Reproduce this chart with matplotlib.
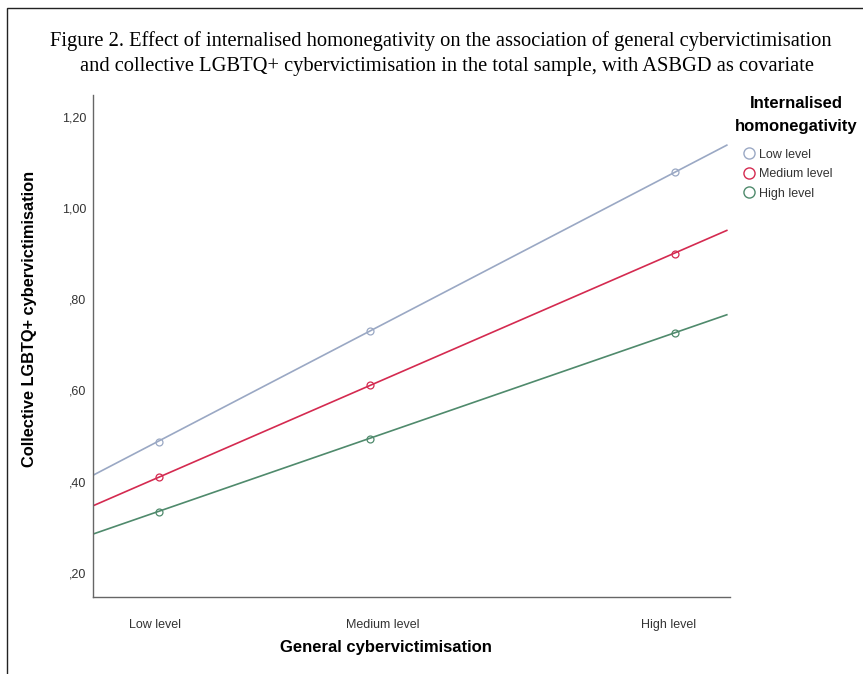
import numpy as np
import matplotlib
matplotlib.use('Agg')
import matplotlib.pyplot as plt
from matplotlib.lines import Line2D
from matplotlib.patches import Rectangle

# values
x_levels = ['Low level', 'Medium level', 'High level']
x_pos = [0.104, 0.435, 0.914]          # where the markers sit on the x scale
x_tick_pos = [0.097, 0.455, 0.904]     # where SPSS put the category labels

groups = ['Low level', 'Medium level', 'High level']
low_ih = [0.487, 0.730, 1.080]
medium_ih = [0.410, 0.611, 0.900]
high_ih = [0.333, 0.493, 0.727]

# fit line ends (left edge x=0, right edge x=0.995)
fit_x = [0.0, 0.995]
low_fit = [0.414, 1.138]
medium_fit = [0.347, 0.951]
high_fit = [0.285, 0.766]

yticks = [0.2, 0.4, 0.6, 0.8, 1.0, 1.2]
ytick_labels = [',20', ',40', ',60', ',80', '1,00', '1,20']

colors = ['#9aa8c4', '#d42a50', '#4f8a6c']

sans = ['Liberation Sans', 'DejaVu Sans']

fig = plt.figure(figsize=(8.63, 6.74), dpi=100)
ax = fig.add_axes([93/863, 1-597/674, (730-93)/863, (597-95)/674])

for vals, fit, c in zip([low_ih, medium_ih, high_ih], [low_fit, medium_fit, high_fit], colors):
    ax.plot(fit_x, fit, color=c, lw=1.2, zorder=2)
    ax.plot(x_pos, vals, 'o', mfc='none', mec=c, ms=5, mew=0.9, zorder=3)

ax.set_xlim(0, 1)
ax.set_ylim(0.147, 1.248)
ax.set_yticks(yticks)
ax.set_yticklabels(ytick_labels, family=sans, fontsize=9, color='#333333')
ax.set_xticks(x_tick_pos)
ax.set_xticklabels(x_levels, family=sans, fontsize=9, color='#333333')
ax.tick_params(length=0)
ax.tick_params(axis='y', pad=5)
ax.tick_params(axis='x', pad=16)
for s in ['top', 'right']:
    ax.spines[s].set_visible(False)
for s in ['left', 'bottom']:
    ax.spines[s].set_color('#666666')
    ax.spines[s].set_linewidth(1.0)

ax.set_xlabel('General cybervictimisation', family=sans, fontsize=12, fontweight='bold')
ax.xaxis.set_label_coords((386-93)/637, -0.085)
ax.set_ylabel('Collective LGBTQ+ cybervictimisation', family=sans, fontsize=11.8, fontweight='bold')
ax.yaxis.set_label_coords(-0.088, 0.553)

fig.text(441/863, 1-41/674, 'Figure 2. Effect of internalised homonegativity on the association of general cybervictimisation',
         ha='center', va='center', family='Liberation Serif', fontsize=14.8)
fig.text(447/863, 1-66/674, 'and collective LGBTQ+ cybervictimisation in the total sample, with ASBGD as covariate',
         ha='center', va='center', family='Liberation Serif', fontsize=14.8)

# legend title, then the entries
fig.text(796/863, 1-103/674, 'Internalised', ha='center', va='center',
         family=sans, fontsize=12, fontweight='bold')
fig.text(796/863, 1-127/674, 'homonegativity', ha='center', va='center',
         family=sans, fontsize=12, fontweight='bold')
handles = [Line2D([], [], ls='none', marker='o', mfc='none', mec=c, ms=8, mew=1.0) for c in colors]
leg = fig.legend(handles, groups, loc='upper left', bbox_to_anchor=(734/863, 1-140/674),
                 frameon=False, prop={'family': sans, 'size': 9}, handlelength=1.0,
                 handletextpad=0.3, labelspacing=0.6, borderpad=0.2)
for t in leg.get_texts():
    t.set_color('#333333')

# border round the whole figure
fig.patches.append(Rectangle((7/863, -0.01), 1.02, 1-8/674+0.01, transform=fig.transFigure,
                             fill=False, ec='#222222', lw=1.0))

fig.savefig('out.png', dpi=100)
